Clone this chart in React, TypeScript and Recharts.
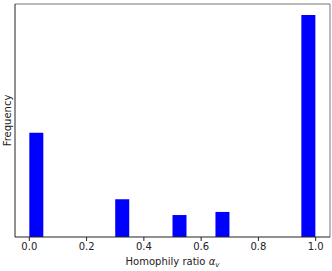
import { ComposedChart, Bar, XAxis, YAxis, ReferenceLine } from 'recharts';

// histogram bins (width 0.05) – bin centres and counts
const BIN_CENTERS = [
  0.025, 0.075, 0.125, 0.175, 0.225, 0.275, 0.325, 0.375, 0.425, 0.475,
  0.525, 0.575, 0.625, 0.675, 0.725, 0.775, 0.825, 0.875, 0.925, 0.975,
];
const COUNTS = [470, 0, 0, 0, 0, 0, 170, 0, 0, 0, 99, 0, 0, 113, 0, 0, 0, 0, 0, 1000];
const X_TICKS = [0, 0.2, 0.4, 0.6, 0.8, 1.0];
const X_DOMAIN = [-0.05, 1.05];
const Y_MAX = 1050;

const data = BIN_CENTERS.map((x, i) => ({ x, count: COUNTS[i] }));

const FONT = 'DejaVu Sans, sans-serif';

function XLabel(props: any) {
  const vb = props.viewBox || {};
  const cx = vb.x + vb.width / 2;
  const y = vb.y + vb.height - 6;
  return (
    <text x={cx} y={y} textAnchor="middle" fontFamily={FONT} fontSize={10} fill="#222">
      Homophily ratio <tspan fontStyle="italic">α</tspan>
      <tspan fontStyle="italic" fontSize={7} dy={2}>v</tspan>
    </text>
  );
}

function YLabel(props: any) {
  const vb = props.viewBox || {};
  const x = 7;
  const y = vb.y + vb.height / 2;
  return (
    <text
      x={x}
      y={y}
      transform={`rotate(-90, ${x}, ${y})`}
      textAnchor="middle"
      dominantBaseline="central"
      fontFamily={FONT}
      fontSize={10}
      fill="#222"
    >
      Frequency
    </text>
  );
}

export default function App() {
  return (
    <div style={{ position: 'absolute', left: 0, top: 0, background: '#fff' }}>
      <ComposedChart
        width={332}
        height={271}
        data={data}
        margin={{ top: 4, right: 2, left: 0, bottom: 0 }}
        barCategoryGap={0}
        barGap={0}
      >
        <XAxis
          dataKey="x"
          type="number"
          domain={X_DOMAIN}
          ticks={X_TICKS}
          tickFormatter={(v: number) => v.toFixed(1)}
          height={34}
          tickSize={4}
          tickMargin={2}
          tick={{ fontFamily: FONT, fontSize: 10, fill: '#222' }}
          tickLine={{ stroke: '#222' }}
          axisLine={{ stroke: '#222' }}
          allowDataOverflow
          label={<XLabel />}
        />
        <YAxis
          domain={[0, Y_MAX]}
          width={15}
          tick={false}
          tickLine={false}
          axisLine={{ stroke: '#222' }}
          allowDataOverflow
          label={<YLabel />}
        />
        <Bar dataKey="count" fill="#0000ff" isAnimationActive={false} />
        {/* top and right spines */}
        <ReferenceLine y={Y_MAX} stroke="#777" strokeWidth={1} />
        <ReferenceLine x={X_DOMAIN[1]} stroke="#777" strokeWidth={1} />
      </ComposedChart>
    </div>
  );
}
